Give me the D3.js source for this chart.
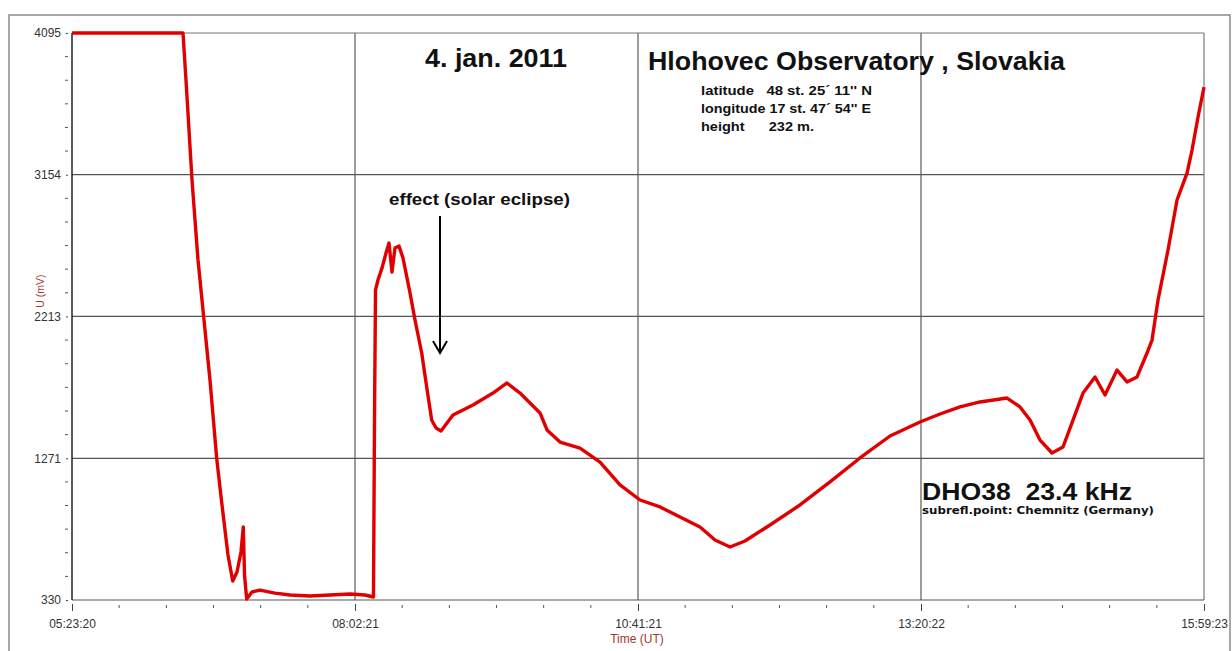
<!DOCTYPE html>
<html><head><meta charset="utf-8">
<script src="https://cdn.jsdelivr.net/npm/d3@7"></script>
<style>
html,body{margin:0;padding:0;background:#fff;}
svg{display:block;}
</style></head>
<body>
<svg id="chart" width="1232" height="651"></svg>
<script>
// ---- data ----
const times = ["05:23:20","06:25:42","06:27:23","06:30:46","06:34:08","06:37:30","06:40:52","06:44:38","06:47:37","06:50:59",
"06:53:38","06:56:03","06:58:17","06:59:35","07:00:16","07:01:29","07:04:28","07:08:58","07:17:24","07:25:49",
"07:37:04","07:48:18","07:59:32","08:07:58","08:12:44","08:13:18","08:13:52","08:15:16","08:17:31","08:19:46",
"08:21:27","08:23:08","08:24:49","08:27:04","08:29:19","08:33:15","08:36:04","08:39:50","08:42:38","08:45:26",
"08:47:52","08:50:40","08:57:25","09:08:39","09:19:53","09:27:45","09:35:04","09:42:22","09:46:18","09:50:14",
"09:57:32","10:08:46","10:20:01","10:31:15","10:42:29","10:53:44","11:04:58","11:16:12","11:24:38","11:33:04",
"11:41:29","11:55:32","12:12:23","12:29:15","12:46:06","13:02:58","13:19:49","13:31:04","13:42:17","13:53:32",
"14:08:43","14:16:01","14:21:38","14:27:15","14:33:59","14:40:10","14:45:47","14:51:25","14:58:09","15:03:46",
"15:10:31","15:16:08","15:21:46","15:27:22","15:30:11","15:33:33","15:39:10","15:44:14","15:49:51","15:52:40",
"15:56:02","15:59:23"];
const values = [4095,4095,3783,3119,2588,2189,1791,1271,961,629,
456,516,649,815,496,337,383,396,376,363,
357,363,370,363,350,1525,2388,2455,2534,2634,
2700,2508,2667,2680,2601,2369,2189,1970,1744,1525,
1472,1452,1558,1625,1704,1771,1704,1618,1572,1459,
1379,1339,1246,1094,994,948,881,815,728,682,
722,828,961,1114,1273,1419,1512,1565,1612,1645,
1671,1612,1525,1392,1306,1346,1525,1704,1811,1691,
1857,1778,1811,1970,2056,2322,2654,2986,3165,3318,
3537,3736];
const yTicks = [330,1271,2213,3154,4095];
const xTicks = ["05:23:20","08:02:21","10:41:21","13:20:22","15:59:23"];
const title = "4. jan. 2011";
const station = "Hlohovec Observatory , Slovakia";
const infoLines = ["latitude   48 st. 25´ 11'' N","longitude 17 st. 47´ 54'' E","height      232 m."];
const annotation = "effect (solar eclipse)";
const annotationTime = "08:50:40";
const transmitter = "DHO38  23.4 kHz";
const subrefl = "subrefl.point: Chemnitz (Germany)";

// ---- scales ----
const parse = d3.utcParse("%H:%M:%S");
const L = 72, R = 1204, T = 33, B = 600;
const x = d3.scaleUtc().domain([parse(xTicks[0]), parse(xTicks[xTicks.length-1])]).range([L, R]);
const y = d3.scaleLinear().domain([330, 4095]).range([B, T]);
const svg = d3.select("#chart");
const font = "'Liberation Sans', Arial, sans-serif";

// outer frame
svg.append("rect").attr("x", 9).attr("y", 15).attr("width", 1221).attr("height", 660)
  .attr("fill", "none").attr("stroke", "#8a8a8a").attr("stroke-width", 1.5);

// minor ticks
const xt = xTicks.map(parse);
const xMinor = [];
for (let i = 0; i < xt.length - 1; i++) {
  for (let k = 1; k < 6; k++) xMinor.push(new Date(+xt[i] + (xt[i+1] - xt[i]) * k / 6));
}
const yMinor = [];
for (let i = 0; i < yTicks.length - 1; i++) {
  for (let k = 1; k < 6; k++) yMinor.push(yTicks[i] + (yTicks[i+1] - yTicks[i]) * k / 6);
}

// grid
const g = svg.append("g");
g.selectAll(".gx").data(xt.slice(1, -1)).join("line")
  .attr("x1", d => x(d)).attr("x2", d => x(d)).attr("y1", T).attr("y2", B)
  .attr("stroke", "#3a3a3a").attr("stroke-width", 1);
g.selectAll(".gy").data(yTicks.slice(1, -1)).join("line")
  .attr("x1", L).attr("x2", R).attr("y1", d => y(d)).attr("y2", d => y(d))
  .attr("stroke", "#555").attr("stroke-width", 1.2);

// plot frame
svg.append("line").attr("x1", L).attr("x2", R).attr("y1", T).attr("y2", T).attr("stroke", "#777").attr("stroke-width", 1.2);
svg.append("line").attr("x1", R).attr("x2", R).attr("y1", T).attr("y2", B).attr("stroke", "#777").attr("stroke-width", 1.2);
svg.append("line").attr("x1", L).attr("x2", R).attr("y1", B).attr("y2", B).attr("stroke", "#555").attr("stroke-width", 1.2);

// axes
const yAxis = d3.axisLeft(y).tickValues(yTicks).tickSize(2).tickPadding(5).tickFormat(d3.format("d"));
const ya = svg.append("g").attr("transform", `translate(${L - 4},0)`).call(yAxis);
ya.select(".domain").remove();
ya.selectAll("text").attr("font-family", font).attr("font-size", 12).attr("fill", "#333");
ya.selectAll("line").attr("stroke", "#444");
svg.append("g").selectAll("line").data(yMinor).join("line")
  .attr("x1", L - 7).attr("x2", L - 4).attr("y1", d => y(d)).attr("y2", d => y(d))
  .attr("stroke", "#555").attr("stroke-width", 1);
svg.append("line").attr("x1", L).attr("x2", L).attr("y1", T).attr("y2", B).attr("stroke", "#000").attr("stroke-width", 1.3);

const xAxis = d3.axisBottom(x).tickValues(xt).tickSize(7).tickPadding(8).tickFormat(d3.utcFormat("%H:%M:%S"));
const xa = svg.append("g").attr("transform", `translate(0,${B + 4})`).call(xAxis);
xa.select(".domain").remove();
xa.selectAll("text").attr("font-family", font).attr("font-size", 12).attr("fill", "#333");
xa.selectAll("line").attr("stroke", "#444");
svg.append("g").selectAll("line").data(xMinor).join("line")
  .attr("x1", d => x(d)).attr("x2", d => x(d)).attr("y1", B + 5).attr("y2", B + 8)
  .attr("stroke", "#555").attr("stroke-width", 1);

// axis titles
svg.append("text").attr("transform", `translate(44,291) rotate(-90)`)
  .attr("text-anchor", "middle").attr("font-family", font).attr("font-size", 10.5).attr("fill", "#a3362c").text("U (mV)");
svg.append("text").attr("x", 637).attr("y", 643).attr("text-anchor", "middle")
  .attr("font-family", font).attr("font-size", 12).attr("fill", "#a3362c").text("Time (UT)");

// data line
const data = times.map((t, i) => ({t: parse(t), v: values[i]}));
svg.append("path").datum(data)
  .attr("d", d3.line().x(d => x(d.t)).y(d => y(d.v)))
  .attr("fill", "none").attr("stroke", "#e10000").attr("stroke-width", 3.4).attr("stroke-linejoin", "round");

// texts
function txt(xp, yp, s, size, len, fam) {
  return svg.append("text").attr("x", xp).attr("y", yp).attr("font-family", fam || font).attr("font-weight", "bold")
    .attr("font-size", size).attr("fill", "#111").attr("xml:space", "preserve")
    .attr("textLength", len).attr("lengthAdjust", "spacingAndGlyphs").text(s);
}
txt(425, 67, title, 26, 142);
txt(648, 70, station, 26, 417);
const infoLen = [171, 170, 113];
infoLines.forEach((s, i) => txt(701, 95 + i * 18, s, 12.5, infoLen[i]));

txt(389, 205, annotation, 16, 181);
const ax = x(parse(annotationTime)) - 1;
svg.append("line").attr("x1", ax).attr("x2", ax).attr("y1", 216).attr("y2", 353).attr("stroke", "#000").attr("stroke-width", 2);
svg.append("path").attr("d", `M${ax - 7},${341} L${ax},${353} L${ax + 7},${341}`)
  .attr("fill", "none").attr("stroke", "#000").attr("stroke-width", 2);

txt(922, 500, transmitter, 24, 210);
txt(922, 514, subrefl, 11, 232, "'DejaVu Sans', Verdana, sans-serif");
</script>
</body></html>
